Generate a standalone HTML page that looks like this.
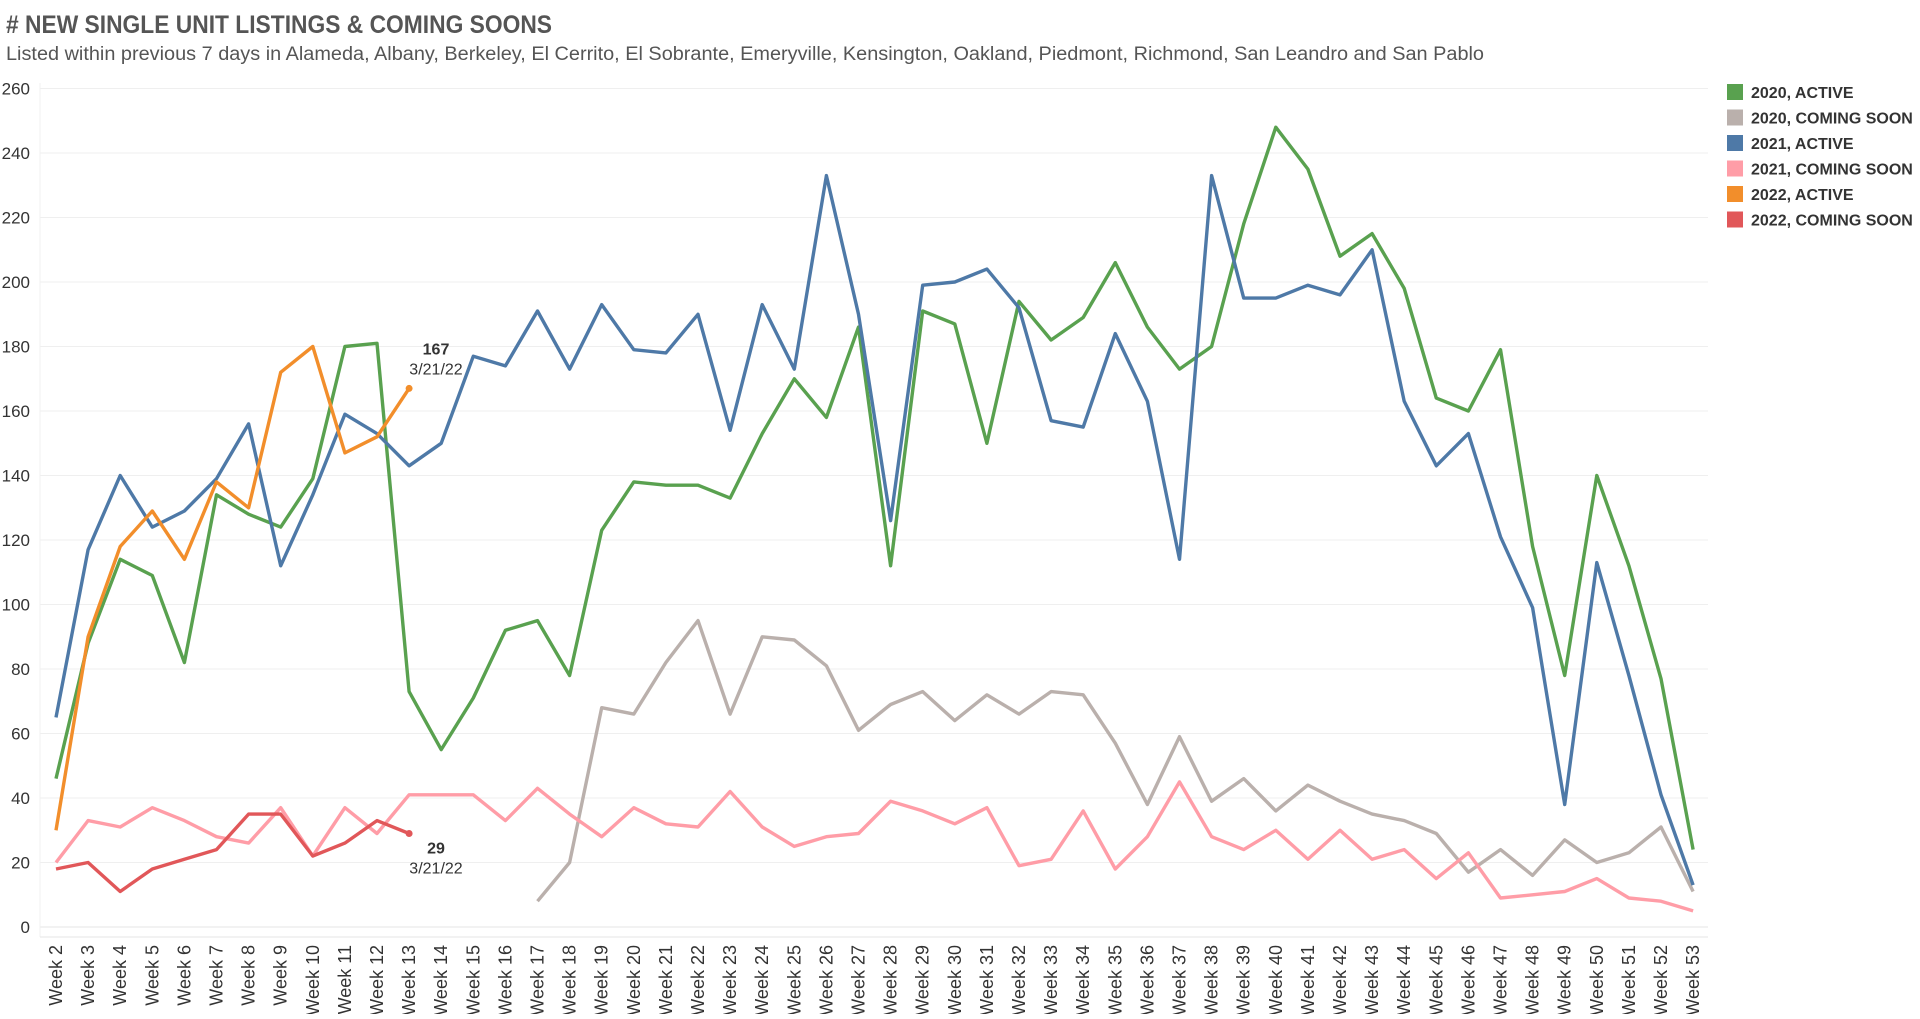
<!DOCTYPE html>
<html><head><meta charset="utf-8"><style>
body{margin:0;background:#fff;width:1920px;height:1014px;overflow:hidden;font-family:"Liberation Sans",sans-serif}
</style></head><body>
<svg id="c" width="1920" height="1014" xmlns="http://www.w3.org/2000/svg">
<text x="6" y="33" font-size="25" font-weight="bold" fill="#555" textLength="546" lengthAdjust="spacingAndGlyphs">#&#160;NEW SINGLE UNIT LISTINGS &amp; COMING SOONS</text>
<text x="6" y="60" font-size="19" fill="#555" textLength="1478" lengthAdjust="spacingAndGlyphs">Listed within previous 7 days in Alameda, Albany, Berkeley, El Cerrito, El Sobrante, Emeryville, Kensington, Oakland, Piedmont, Richmond, San Leandro and San Pablo</text>
<g id="grid"></g><g id="axes"></g><g id="lines"></g><g id="legend"></g>
</svg>
<script>
const weeks = []; for (let w = 2; w <= 53; w++) weeks.push('Week ' + w);
const yTicks = [0,20,40,60,80,100,120,140,160,180,200,220,240,260];
const a2020 = [46,88,114,109,82,134,128,124,139,180,181,73,55,71,92,95,78,123,138,137,137,133,153,170,158,186,112,191,187,150,194,182,189,206,186,173,180,218,248,235,208,215,198,164,160,179,118,78,140,112,77,24];
const c2020 = [null,null,null,null,null,null,null,null,null,null,null,null,null,null,null,8,20,68,66,82,95,66,90,89,81,61,69,73,64,72,66,73,72,57,38,59,39,46,36,44,39,35,33,29,17,24,16,27,20,23,31,11];
const a2021 = [65,117,140,124,129,139,156,112,134,159,153,143,150,177,174,191,173,193,179,178,190,154,193,173,233,190,126,199,200,204,192,157,155,184,163,114,233,195,195,199,196,210,163,143,153,121,99,38,113,78,41,13];
const c2021 = [20,33,31,37,33,28,26,37,22,37,29,41,41,41,33,43,35,28,37,32,31,42,31,25,28,29,39,36,32,37,19,21,36,18,28,45,28,24,30,21,30,21,24,15,23,9,10,11,15,9,8,5];
const a2022 = [30,90,118,129,114,138,130,172,180,147,152,167];
const c2022 = [18,20,11,18,21,24,35,35,22,26,33,29];
const seriesNames = ['2020, ACTIVE','2020, COMING SOON','2021, ACTIVE','2021, COMING SOON','2022, ACTIVE','2022, COMING SOON'];
const seriesData = [a2020,c2020,a2021,c2021,a2022,c2022];
const colors = ['#59a14f','#bab0ac','#4e79a7','#ff9da7','#f28e2b','#e15759'];
const NS='http://www.w3.org/2000/svg';
const X0=56, DX=32.1, Y0=927, PY=3.225;
const xs=i=>X0+i*DX, ys=v=>Y0-v*PY;
function mk(t,attrs,parent,txt){const e=document.createElementNS(NS,t);for(const k in attrs)e.setAttribute(k,attrs[k]);if(txt!==undefined)e.textContent=txt;document.getElementById(parent).appendChild(e);return e;}
yTicks.forEach(v=>{
  const g=mk('line',{x1:40,x2:1708,y1:ys(v),y2:ys(v),stroke:v===0?'#e6e6e6':'#efefef','stroke-width':1},'grid');
  
  
  const t=mk('text',{x:30,y:ys(v)+6,'text-anchor':'end','font-size':17,fill:'#333'},'axes',String(v));
  
  
});
mk('line',{x1:40,x2:40,y1:83,y2:937,stroke:'#f0f0f0'},'axes');
mk('line',{x1:40,x2:1708,y1:937,y2:937,stroke:'#e6e6e6'},'axes');
weeks.forEach((w,i)=>{
  const x=xs(i)+6;
  const t=mk('text',{x:x,y:945,'text-anchor':'end','font-size':18,fill:'#333',transform:`rotate(-90 ${x} 945)`},'axes',w);
  
  
});
seriesData.forEach((d,s)=>{
  let segs=[],cur=[];
  d.forEach((v,i)=>{if(v==null){if(cur.length)segs.push(cur);cur=[];}else cur.push(xs(i).toFixed(1)+','+ys(v).toFixed(1));});
  if(cur.length)segs.push(cur);
  segs.forEach(p=>{
    const l=mk('polyline',{points:p.join(' '),fill:'none',stroke:colors[s],'stroke-width':3.4,'stroke-linejoin':'round'},'lines');
    
    
  });
});
[[a2022,4],[c2022,5]].forEach(([d,s])=>{
  const i=d.length-1,v=d[i];
  const c=mk('circle',{cx:xs(i),cy:ys(v),r:3.5,fill:colors[s]},'lines');
  
  
  const base = s===4 ? ys(v)-34 : ys(v)+20;
  const t1=mk('text',{x:436,y:base,'text-anchor':'middle','font-size':16,'font-weight':'bold',fill:'#333'},'lines',String(v));
  
  
  const t2=mk('text',{x:436,y:base+20,'text-anchor':'middle','font-size':16,fill:'#333'},'lines','3/21/22');
  
  
});
seriesNames.forEach((n,k)=>{
  const y=84+k*25.5;
  const r=mk('rect',{x:1727,y:y,width:16,height:16,fill:colors[k]},'legend');
  
  
  const t=mk('text',{x:1751,y:y+14,'font-size':16,'font-weight':'bold',fill:'#333'},'legend',n);
  
  
});
</script>
</body></html>
